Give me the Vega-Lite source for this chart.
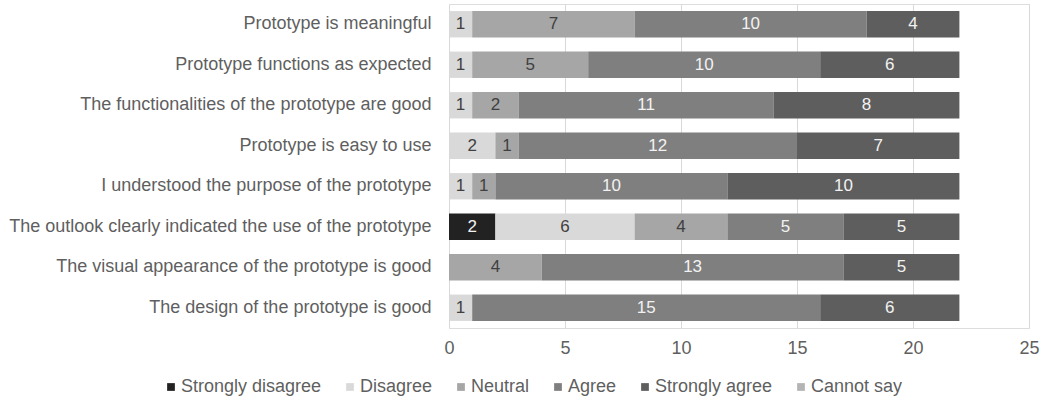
{
  "$schema": "https://vega.github.io/schema/vega-lite/v6.json",
  "autosize": {"type": "none"},
  "padding": {"left": 449, "top": 4, "right": 19, "bottom": 74},
  "width": 580,
  "height": 324,
  "background": "#ffffff",
  "data": {
    "values": [
      {"item": "Prototype is meaningful", "response": "Disagree", "rank": 2, "count": 1},
      {"item": "Prototype is meaningful", "response": "Neutral", "rank": 3, "count": 7},
      {"item": "Prototype is meaningful", "response": "Agree", "rank": 4, "count": 10},
      {"item": "Prototype is meaningful", "response": "Strongly agree", "rank": 5, "count": 4},
      {"item": "Prototype functions as expected", "response": "Disagree", "rank": 2, "count": 1},
      {"item": "Prototype functions as expected", "response": "Neutral", "rank": 3, "count": 5},
      {"item": "Prototype functions as expected", "response": "Agree", "rank": 4, "count": 10},
      {"item": "Prototype functions as expected", "response": "Strongly agree", "rank": 5, "count": 6},
      {"item": "The functionalities of the prototype are good", "response": "Disagree", "rank": 2, "count": 1},
      {"item": "The functionalities of the prototype are good", "response": "Neutral", "rank": 3, "count": 2},
      {"item": "The functionalities of the prototype are good", "response": "Agree", "rank": 4, "count": 11},
      {"item": "The functionalities of the prototype are good", "response": "Strongly agree", "rank": 5, "count": 8},
      {"item": "Prototype is easy to use", "response": "Disagree", "rank": 2, "count": 2},
      {"item": "Prototype is easy to use", "response": "Neutral", "rank": 3, "count": 1},
      {"item": "Prototype is easy to use", "response": "Agree", "rank": 4, "count": 12},
      {"item": "Prototype is easy to use", "response": "Strongly agree", "rank": 5, "count": 7},
      {"item": "I understood the purpose of the prototype", "response": "Disagree", "rank": 2, "count": 1},
      {"item": "I understood the purpose of the prototype", "response": "Neutral", "rank": 3, "count": 1},
      {"item": "I understood the purpose of the prototype", "response": "Agree", "rank": 4, "count": 10},
      {"item": "I understood the purpose of the prototype", "response": "Strongly agree", "rank": 5, "count": 10},
      {"item": "The outlook clearly indicated the use of the prototype", "response": "Strongly disagree", "rank": 1, "count": 2},
      {"item": "The outlook clearly indicated the use of the prototype", "response": "Disagree", "rank": 2, "count": 6},
      {"item": "The outlook clearly indicated the use of the prototype", "response": "Neutral", "rank": 3, "count": 4},
      {"item": "The outlook clearly indicated the use of the prototype", "response": "Agree", "rank": 4, "count": 5},
      {"item": "The outlook clearly indicated the use of the prototype", "response": "Strongly agree", "rank": 5, "count": 5},
      {"item": "The visual appearance of the prototype is good", "response": "Neutral", "rank": 3, "count": 4},
      {"item": "The visual appearance of the prototype is good", "response": "Agree", "rank": 4, "count": 13},
      {"item": "The visual appearance of the prototype is good", "response": "Strongly agree", "rank": 5, "count": 5},
      {"item": "The design of the prototype is good", "response": "Disagree", "rank": 2, "count": 1},
      {"item": "The design of the prototype is good", "response": "Agree", "rank": 4, "count": 15},
      {"item": "The design of the prototype is good", "response": "Strongly agree", "rank": 5, "count": 6}
    ]
  },
  "encoding": {
    "y": {
      "field": "item",
      "type": "nominal",
      "sort": null,
      "scale": {"paddingInner": 0.35, "paddingOuter": 0.175},
      "axis": {
        "title": null,
        "domain": false,
        "ticks": false,
        "labelPadding": 18,
        "labelFont": "Liberation Sans",
        "labelFontSize": 18,
        "labelColor": "#5f5f5f",
        "labelLimit": 500
      }
    },
    "x": {
      "field": "count",
      "type": "quantitative",
      "stack": "zero",
      "scale": {"domain": [0, 25], "nice": false},
      "axis": {
        "title": null,
        "values": [0, 5, 10, 15, 20, 25],
        "domain": false,
        "ticks": false,
        "grid": true,
        "gridColor": "#d9d9d9",
        "gridWidth": 1,
        "labelFlush": false,
        "labelPadding": 11,
        "labelFont": "Liberation Sans",
        "labelFontSize": 18,
        "labelColor": "#5f5f5f"
      }
    },
    "order": {"field": "rank", "type": "quantitative"}
  },
  "layer": [
    {
      "mark": {"type": "bar"},
      "encoding": {
        "color": {
          "field": "response",
          "type": "nominal",
          "scale": {
            "domain": ["Strongly disagree", "Disagree", "Neutral", "Agree", "Strongly agree", "Cannot say"],
            "range": ["#222222", "#d9d9d9", "#a6a6a6", "#7f7f7f", "#5e5e5e", "#b4b4b4"]
          },
          "legend": {
            "title": null,
            "orient": "none",
            "direction": "horizontal",
            "legendX": -287,
            "legendY": 374,
            "symbolType": "square",
            "symbolSize": 60,
            "symbolStrokeWidth": 0,
            "labelFont": "Liberation Sans",
            "labelFontSize": 18,
            "labelColor": "#5f5f5f",
            "labelOffset": 1,
            "columnPadding": 19,
            "labelLimit": 300
          }
        }
      }
    },
    {
      "mark": {"type": "text", "font": "Liberation Sans", "fontSize": 17, "baseline": "middle", "align": "center"},
      "encoding": {
        "x": {"field": "count", "type": "quantitative", "stack": "zero", "bandPosition": 0.5},
        "text": {"field": "count", "type": "quantitative"},
        "color": {
          "condition": {"test": "datum.response === 'Disagree' || datum.response === 'Neutral'", "value": "#404040"},
          "value": "#f2f2f2"
        }
      }
    }
  ]
}
